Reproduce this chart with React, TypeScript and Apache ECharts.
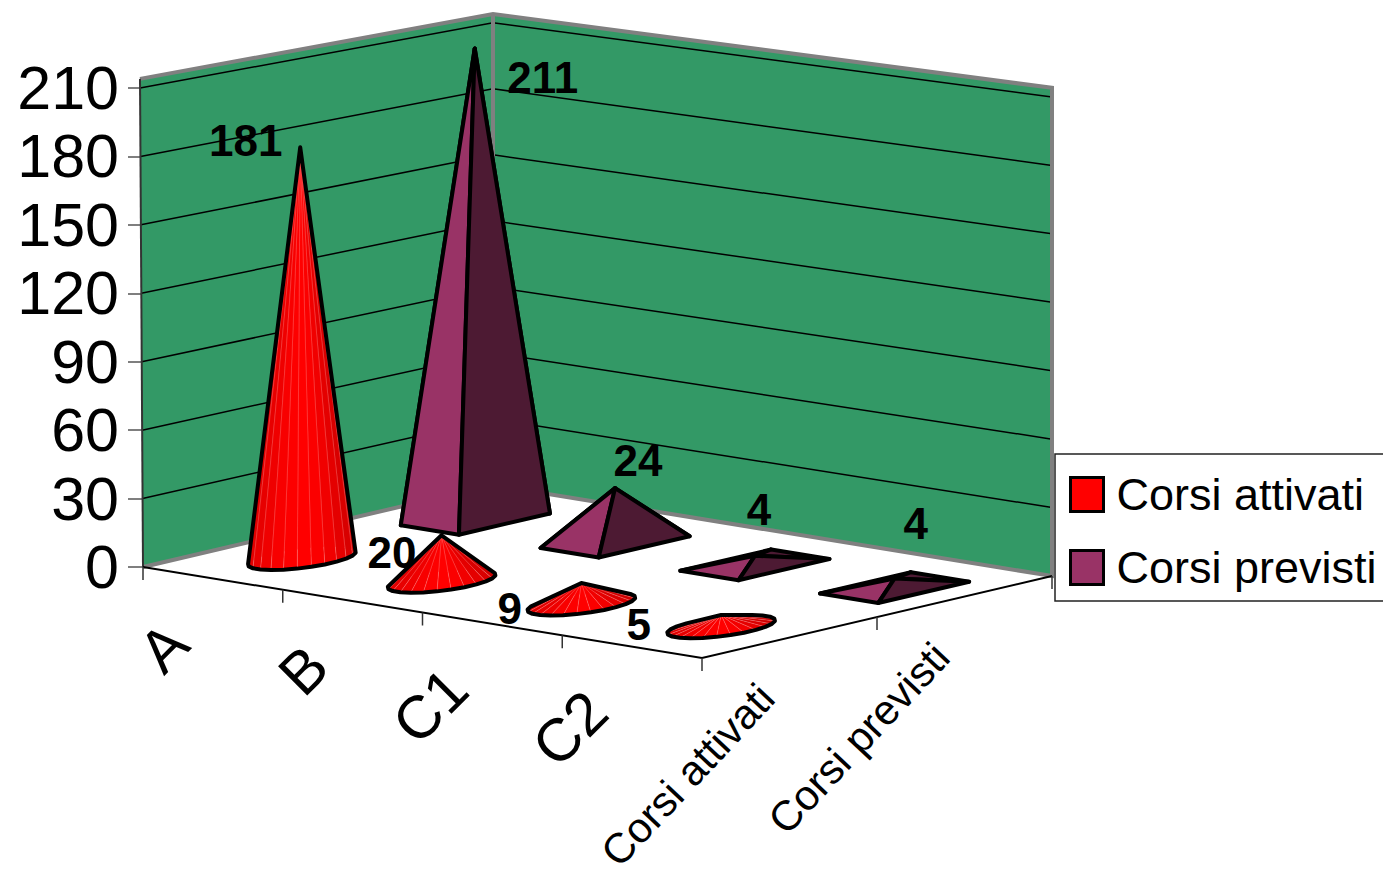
import React, { useEffect, useRef } from "react";
import * as echarts from "echarts";

const categories = ["A", "B", "C1", "C2"];
const seriesNames = ["Corsi attivati", "Corsi previsti"];
const corsiAttivati = [181, 20, 9, 5];
const corsiPrevisti = [211, 24, 4, 4];
const gridValues = [30, 60, 90, 120, 150, 180, 210];

const labelOffsetsAttivati = [[-53, -6], [-48, 18], [-70, 26], [-81, 10]];
const labelOffsetsPrevisti = [[68, 31], [23, -25], [4, -44], [21, -52]];

const FONT = '"Liberation Sans", Arial, sans-serif';
const O = [143, 567];
const U = [559, 91];
const V = [350, -82];
const DU = 0.052;
const DV = 0.13;
const WALL_TOP = 214;
const RED = "#ff0000";
const PURPLE = "#993366";
const DARK = "#4d1a33";

function project(api: any, u: number, v: number, val: number): number[] {
  const h = api.coord([0, 0])[1] - api.coord([0, val])[1];
  const k = 1 + 0.035 * (u - v);
  const hh = h * k;
  const lean = 3 * (hh / 488) * (1 - u) * (1 - v);
  return [O[0] + u * U[0] + v * V[0] - lean, O[1] + u * U[1] + v * V[1] - hh];
}

function hull(points: number[][]): number[][] {
  const p = points.slice().sort((a, b) => a[0] - b[0] || a[1] - b[1]);
  const cross = (o: number[], a: number[], b: number[]) =>
    (a[0] - o[0]) * (b[1] - o[1]) - (a[1] - o[1]) * (b[0] - o[0]);
  const lower: number[][] = [];
  for (const q of p) {
    while (lower.length >= 2 && cross(lower[lower.length - 2], lower[lower.length - 1], q) <= 0) lower.pop();
    lower.push(q);
  }
  const upper: number[][] = [];
  for (let i = p.length - 1; i >= 0; i--) {
    const q = p[i];
    while (upper.length >= 2 && cross(upper[upper.length - 2], upper[upper.length - 1], q) <= 0) upper.pop();
    upper.push(q);
  }
  lower.pop();
  upper.pop();
  return lower.concat(upper);
}

function dataLabel(apex: number[], off: number[], value: number) {
  return {
    type: "text",
    z2: 20,
    x: apex[0] + off[0],
    y: apex[1] + off[1],
    style: {
      text: String(value),
      font: `bold 44px ${FONT}`,
      fill: "#000",
      align: "center",
      verticalAlign: "middle",
    },
  };
}

function renderCone(params: any, api: any) {
  const c = api.value(0);
  const val = api.value(1);
  const u = (c + 0.5) / categories.length;
  const v = 0.25;
  const nudge = (p: number[]) => [p[0] + 1.5, p[1] + 0.5];
  const rawApex = project(api, u, v, val);
  const apex = nudge(rawApex);
  const n = 24;
  const base: { p: number[]; t: number }[] = [];
  for (let i = 0; i < n; i++) {
    const t = ((i + 0.5) / n) * Math.PI * 2;
    base.push({ p: nudge(project(api, u + DU * Math.cos(t), v + DV * Math.sin(t), 0)), t });
  }
  const centre = nudge(project(api, u, v, 0));
  const faces = [];
  for (let i = 0; i < n; i++) {
    const a = base[i].p;
    const b = base[(i + 1) % n].p;
    const midX = (a[0] + b[0]) / 2 - centre[0];
    const midY = (a[1] + b[1]) / 2 - centre[1];
    faces.push({ a, b, midX, midY });
  }
  faces.sort((f, g) => f.midY - g.midY);
  const children: any[] = [];
  faces.forEach((f) => {
    const s = Math.min(1, Math.abs(f.midX) / 54);
    const r = Math.round(255 - 50 * s * s * (f.midX > 0 ? 1 : 0.7));
    children.push({
      type: "polygon",
      shape: { points: [apex, f.a, f.b] },
      style: { fill: `rgb(${r},0,0)`, stroke: "rgba(255,150,150,0.45)", lineWidth: 0.6 },
    });
  });
  const outline = hull(base.map((b) => b.p).concat([apex]));
  children.push({
    type: "polygon",
    z2: 10,
    shape: { points: outline },
    style: { fill: "none", stroke: "#000", lineWidth: 4, lineJoin: "round" },
  });
  children.push(dataLabel(rawApex, labelOffsetsAttivati[c], val));
  return { type: "group", children };
}

function renderPyramid(params: any, api: any) {
  const c = api.value(0);
  const val = api.value(1);
  const u = (c + 0.5) / categories.length;
  const v = 0.75;
  const nudge = (p: number[]) => [p[0], p[1] + 2.5];
  const rawApex = project(api, u, v, val);
  const apex = nudge(rawApex);
  const left = nudge(project(api, u - DU, v - DV, 0));
  const front = nudge(project(api, u + DU, v - DV, 0));
  const right = nudge(project(api, u + DU, v + DV, 0));
  const back = nudge(project(api, u - DU, v + DV, 0));
  const edge = { stroke: "#000", lineWidth: 4, lineJoin: "round" };
  const faces = [
    { pts: [apex, left, back], fill: PURPLE },
    { pts: [apex, back, right], fill: DARK },
    { pts: [apex, left, front], fill: PURPLE },
    { pts: [apex, front, right], fill: DARK },
  ];
  const children: any[] = faces.map((f) => ({
    type: "polygon",
    shape: { points: f.pts },
    style: { fill: f.fill, ...edge },
  }));
  children.push(dataLabel(rawApex, labelOffsetsPrevisti[c], val));
  return { type: "group", children };
}

function renderFrame(params: any, api: any) {
  const line = (points: number[][], stroke: string, lineWidth: number) => ({
    type: "polyline",
    shape: { points },
    style: { fill: "none", stroke, lineWidth, lineJoin: "miter" },
  });
  const L0 = project(api, 0, 0, 0);
  const B0 = project(api, 0, 1, 0);
  const R0 = project(api, 1, 1, 0);
  const F0 = project(api, 1, 0, 0);
  const L1 = project(api, 0, 0, WALL_TOP);
  const B1 = project(api, 0, 1, WALL_TOP);
  const R1 = project(api, 1, 1, WALL_TOP);
  const children: any[] = [
    {
      type: "polygon",
      shape: { points: [L0, L1, B1, R1, R0, B0] },
      style: { fill: "#339966" },
    },
  ];
  gridValues.forEach((g) => {
    children.push(line([project(api, 0, 0, g), project(api, 0, 1, g), project(api, 1, 1, g)], "#000", 1.5));
  });
  children.push(line([L1, B1, R1, R0, B0, L0], "#808080", 4));
  children.push(line([B1, B0], "#808080", 4));
  children.push(line([L0, L1], "#333333", 2));
  children.push(line([L0, F0, R0], "#000", 2));
  const ticksU = [0, 0.25, 0.5, 0.75, 1];
  ticksU.forEach((t) => {
    const p = project(api, t, 0, 0);
    children.push(line([p, [p[0], p[1] + 13]], "#333333", 1.5));
  });
  [0.5, 1].forEach((t) => {
    const p = project(api, 1, t, 0);
    children.push(line([p, [p[0], p[1] + 13]], "#333333", 1.5));
  });
  categories.forEach((name, i) => {
    const p = project(api, (i + 0.5) / categories.length, 0, 0);
    children.push({
      type: "text",
      x: p[0] - 35,
      y: p[1] + 55,
      rotation: Math.PI / 4,
      style: { text: name, font: `60px ${FONT}`, fill: "#000", align: "right", verticalAlign: "middle" },
    });
  });
  seriesNames.forEach((name, i) => {
    const p = project(api, 1, (i + 0.5) / seriesNames.length, 0);
    children.push({
      type: "text",
      x: p[0] - 23,
      y: p[1] + 53,
      rotation: (47 * Math.PI) / 180,
      style: { text: name, font: `42px ${FONT}`, fill: "#000", align: "right", verticalAlign: "middle" },
    });
  });
  return { type: "group", children };
}

export default function App() {
  const ref = useRef<HTMLDivElement>(null);
  useEffect(() => {
    document.body.style.margin = "0";
    document.body.style.overflow = "hidden";
    const chart = echarts.init(ref.current!, null, { renderer: "svg" });
    chart.setOption({
      animation: false,
      backgroundColor: "#ffffff",
      grid: { left: 143, top: 88, width: 909, height: 479, containLabel: false },
      xAxis: { type: "value", min: 0, max: 1, show: false },
      yAxis: {
        type: "value",
        min: 0,
        max: 210,
        interval: 30,
        axisLine: { show: false },
        axisTick: { show: true, length: 15, lineStyle: { color: "#555555", width: 1.5 } },
        splitLine: { show: false },
        axisLabel: { fontSize: 61, fontFamily: "Liberation Sans", color: "#000", margin: 24 },
      },
      legend: {
        orient: "vertical",
        left: 1055,
        top: 454,
        padding: [18, 14, 11, 14],
        itemWidth: 33,
        itemHeight: 34,
        itemGap: 28,
        borderColor: "#222",
        borderWidth: 1.5,
        backgroundColor: "#fff",
        selectedMode: false,
        textStyle: { fontSize: 45, fontFamily: "Liberation Sans", color: "#000", padding: [0, 0, 0, 8] },
        itemStyle: { borderColor: "#000", borderWidth: 3 },
        data: seriesNames.map((name) => ({ name, icon: "rect" })),
      },
      series: [
        {
          type: "custom",
          name: "frame",
          clip: false,
          silent: true,
          renderItem: renderFrame,
          data: [[0, 0]],
          z: 1,
        },
        {
          type: "custom",
          name: seriesNames[1],
          clip: false,
          silent: true,
          itemStyle: { color: PURPLE },
          renderItem: renderPyramid,
          data: corsiPrevisti.map((v, i) => [i, v]),
          encode: { x: 0, y: 1 },
          z: 2,
        },
        {
          type: "custom",
          name: seriesNames[0],
          clip: false,
          silent: true,
          itemStyle: { color: RED },
          renderItem: renderCone,
          data: corsiAttivati.map((v, i) => [i, v]),
          encode: { x: 0, y: 1 },
          z: 3,
        },
      ],
    });
    return () => chart.dispose();
  }, []);
  return <div ref={ref} style={{ width: 1383, height: 869 }} />;
}
